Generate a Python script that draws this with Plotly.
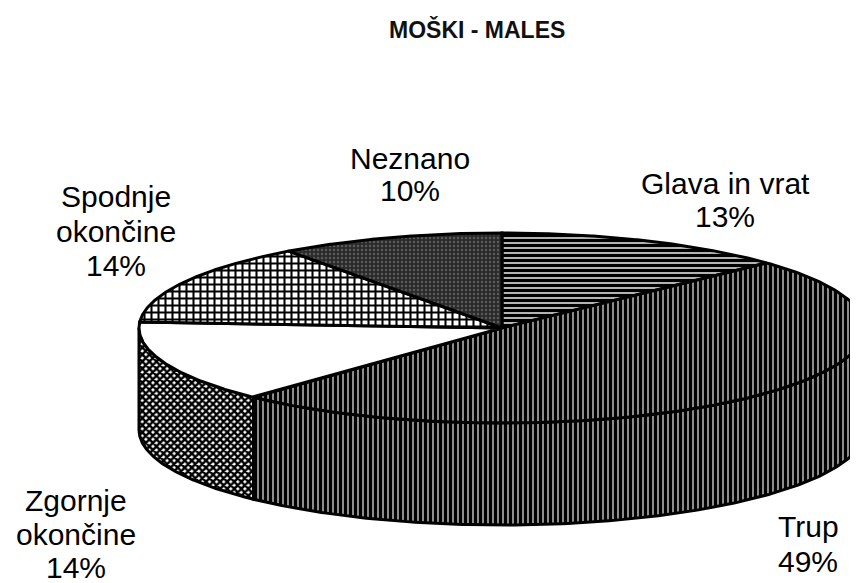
import numpy as np
import plotly.graph_objects as go

# ---------------- data ----------------
categories = ["Glava in vrat", "Trup", "Zgornje okončine", "Spodnje okončine", "Neznano"]
values = [13, 49, 14, 14, 10]
title_text = "MOŠKI - MALES"

# ---------------- geometry / style ----------------
W, H = 858, 583
OFF = 8  # default page body margin
CX, CY, RX, RY, DEPTH = 502, 328, 363, 95, 102

top_styles = [
    dict(shape="-", bgcolor="white", fgcolor="black", size=5, solidity=0.72, fillmode="replace"),
    dict(shape="|", bgcolor="white", fgcolor="black", size=5, solidity=0.78, fillmode="replace"),
    dict(shape="", bgcolor="white", fgcolor="white", size=5, solidity=0.0),
    dict(shape="+", bgcolor="white", fgcolor="black", size=7, solidity=0.5, fillmode="replace"),
    dict(shape=".", bgcolor="#2a2a2a", fgcolor="#8a8a8a", size=4, solidity=0.3),
]
side_styles = [
    top_styles[0],
    top_styles[1],
    dict(shape="x", bgcolor="white", fgcolor="black", size=5, solidity=0.72, fillmode="replace"),
    top_styles[3],
    top_styles[4],
]
fill_bases = ["white", "white", "white", "white", "#2a2a2a"]

# label layout: x centre and y of each text line
label_x = [725, 808, 76, 116, 410]
label_y = [[183, 216], [526, 561], [500, 534, 567], [196, 231, 265], [158, 190]]
FONT = "Liberation Sans, Arial, sans-serif"


def pt(theta_deg, dy=0.0):
    t = np.radians(theta_deg)
    return CX + RX * np.sin(t), CY - RY * np.cos(t) + dy


total = float(sum(values))
ends = np.cumsum(values) / total * 360.0
starts = np.concatenate([[0.0], ends[:-1]])

fig = go.Figure()

# side faces (front half: 90..270 deg)
for i, (a1, a2) in enumerate(zip(starts, ends)):
    s, e = max(a1, 90.0), min(a2, 270.0)
    if e <= s:
        continue
    th = np.linspace(s, e, 160)
    xt, yt = pt(th)
    xb, yb = pt(th[::-1], DEPTH)
    xs = np.concatenate([xt, xb, xt[:1]])
    ys = np.concatenate([yt, yb, yt[:1]])
    fig.add_trace(go.Scatter(
        x=xs, y=ys, mode="lines", fill="toself",
        fillcolor=fill_bases[i],
        fillpattern=side_styles[i],
        line=dict(color="black", width=3),
        hoverinfo="skip", showlegend=False,
    ))

# top faces
for i, (a1, a2) in enumerate(zip(starts, ends)):
    th = np.linspace(a1, a2, 200)
    xa, ya = pt(th)
    xs = np.concatenate([[CX], xa, [CX]])
    ys = np.concatenate([[CY], ya, [CY]])
    fig.add_trace(go.Scatter(
        x=xs, y=ys, mode="lines", fill="toself",
        fillcolor=fill_bases[i],
        fillpattern=top_styles[i],
        line=dict(color="black", width=3),
        hoverinfo="skip", showlegend=False,
    ))

# labels (one annotation per text line)
for i, cat in enumerate(categories):
    name_lines = cat.replace(" okončine", "\nokončine").split("\n")
    lines = name_lines + [f"{values[i]:.0f}%"]
    for line, y in zip(lines, label_y[i]):
        fig.add_annotation(x=label_x[i], y=y, xref="x", yref="y", text=line, showarrow=False,
                           xanchor="center", yanchor="middle", align="center",
                           font=dict(family=FONT, size=30, color="black"))

fig.add_annotation(x=477, y=29, xref="x", yref="y", text=f"<b>{title_text}</b>", showarrow=False,
                   xanchor="center", yanchor="middle",
                   font=dict(family=FONT, size=23, color="#111"))

fig.update_layout(
    width=W - OFF, height=H - OFF,
    margin=dict(l=0, r=0, t=0, b=0),
    paper_bgcolor="white", plot_bgcolor="white",
    xaxis=dict(range=[OFF, W], visible=False, fixedrange=True),
    yaxis=dict(range=[H, OFF], visible=False, fixedrange=True),
    showlegend=False,
)

fig.write_html("out.html")
